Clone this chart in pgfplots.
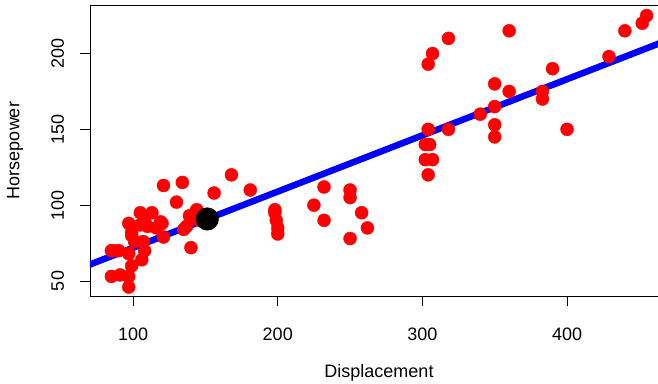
\documentclass[border=0pt]{standalone}
\usepackage{fontspec}
\setmainfont{Liberation Sans}
\usepackage{pgfplots}
\pgfplotsset{compat=1.18}
\begin{document}
\begin{tikzpicture}
\begin{axis}[name=ax, scale only axis, width=578pt, height=291pt,
  xmin=70.2, xmax=469.8, ymin=40.1, ymax=232,
  axis line style={black, line width=0.8pt},
  xtick={100,200,300,400}, ytick={50,100,150,200},
  tick align=outside, tick pos=left, major tick length=9.5pt,
  tick style={black, line width=0.8pt},
  font=\fontsize{18}{21}\selectfont,
  /pgf/number format/assume math mode=true,
  yticklabel style={rotate=90, anchor=south},
  xticklabel shift=19pt, yticklabel shift=13pt,
  xlabel={Displacement}, ylabel={Horsepower},
  xlabel style={at={(axis description cs:0.5,-0.2646)}, anchor=center},
  ylabel style={at={(axis description cs:-0.1298,0.5)}, anchor=center},
  clip=true]
\addplot[only marks, mark=*, red, mark size=6.5pt] coordinates {
(85,70) (90,70) (97,68) (85,53) (91,54) (97,53) (97,46) (99,60) (106,64)
(99,80) (101,76) (107,76) (108,70) (97,88) (105,95) (113,95) (108,90)
(110,86) (116,85) (120,88) (119,89) (121,79) (105,87) (99,82) (86,70)
(121,113) (130,102) (134,115) (144,97) (140,92) (139,93) (143,95)
(135,84) (137,86) (140,72) (156,108) (168,120) (181,110) (146,90)
(198,97) (198,95) (199,90) (200,85) (200,81)
(225,100) (232,112) (232,90) (250,110) (250,105) (258,95) (262,85) (250,78)
(302,140) (305,140) (302,130) (307,130) (304,120) (304,150) (304,193)
(307,200) (318,210) (318,150) (340,160) (350,180) (350,165) (350,153)
(350,145) (360,215) (360,175) (383,175) (383,170) (390,190) (400,150)
(429,198) (440,215) (452,220) (455,225)
};
\addplot[blue, line width=6.5pt] coordinates {(60,57.1) (480,212.7)};
\addplot[only marks, mark=*, black, mark size=11.3pt] coordinates {(151.3,90.9)};
\end{axis}
\pgfresetboundingbox
\path[use as bounding box] ([xshift=-90pt,yshift=-87pt]ax.south west) rectangle ([xshift=-10pt,yshift=5pt]ax.north east);
\end{tikzpicture}
\end{document}
